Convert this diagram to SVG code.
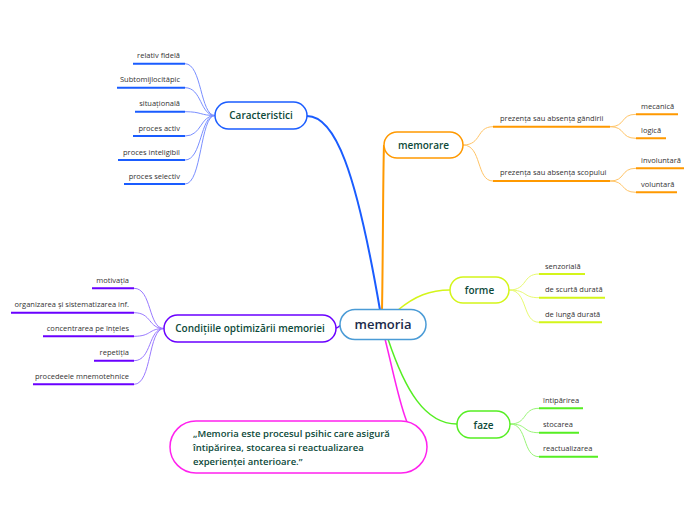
<svg xmlns="http://www.w3.org/2000/svg" width="696" height="520" viewBox="0 0 696 520">
<style>
.leaf{font-family:"Open Sans","Noto Sans",sans-serif;font-size:7.5px;fill:#333}
.nt{font-family:"Open Sans","Noto Sans",sans-serif;font-size:10px;font-weight:600;fill:#0d4a3a;text-anchor:middle}
.q{font-family:"Open Sans","Noto Sans",sans-serif;font-size:9.5px;font-weight:600;fill:#0d4a3a}
.c{fill:none}
.node{fill:#fff;stroke-width:1.5}
.ul{stroke-width:2;fill:none}
.e{text-anchor:end}
</style>
<rect width="696" height="520" fill="#fff"/>
<g id="connectors" class="c">
  <path d="M307,116 C335,116 356,170 380,310" stroke="#1a5cff" stroke-width="2"/>
  <path d="M384,145 C383,170 383,260 382,310" stroke="#ff9900" stroke-width="2"/>
  <path d="M398,310 C415,296 430,290 450,290" stroke="#d4f51a" stroke-width="1.5"/>
  <path d="M388,339 C405,390 425,424 457,424" stroke="#55ee22" stroke-width="1.5"/>
  <path d="M385,339 C398,390 405,440 427,447" stroke="#ff22ee" stroke-width="1.5"/>
  <path d="M336,328 C338,328 339,326 341,325" stroke="#6a00ff" stroke-width="1.5"/>
  <g stroke="#7a8fff" stroke-width="1">
    <path d="M185,63.7 C202,63.7 200,115.5 215,115.5"/>
    <path d="M185,87.7 C202,87.7 200,115.5 215,115.5"/>
    <path d="M185,111.7 C202,111.7 200,115.5 215,115.5"/>
    <path d="M185,136 C202,136 200,115.5 215,115.5"/>
    <path d="M185,160 C202,160 200,115.5 215,115.5"/>
    <path d="M185,184 C202,184 200,115.5 215,115.5"/>
  </g>
  <g stroke="#9a7aff" stroke-width="1">
    <path d="M134,288.3 C152,288.3 148,328.5 164,328.5"/>
    <path d="M134,312.7 C152,312.7 148,328.5 164,328.5"/>
    <path d="M134,336.3 C152,336.3 148,328.5 164,328.5"/>
    <path d="M134,360.7 C152,360.7 148,328.5 164,328.5"/>
    <path d="M134,384.3 C152,384.3 148,328.5 164,328.5"/>
  </g>
  <g stroke="#ffc466" stroke-width="1">
    <path d="M463,145 C482,145 476,126.7 493,126.7"/>
    <path d="M463,145 C482,145 476,181 493,181"/>
    <path d="M610,126.7 C626,126.7 620,114.3 636,114.3"/>
    <path d="M610,126.7 C626,126.7 620,138.3 636,138.3"/>
    <path d="M610,181 C626,181 620,168.3 636,168.3"/>
    <path d="M610,181 C626,181 620,192.3 636,192.3"/>
  </g>
  <g stroke="#e8fa70" stroke-width="1">
    <path d="M509,290 C528,290 522,274 539,274"/>
    <path d="M509,290 C528,290 522,297.7 539,297.7"/>
    <path d="M509,290 C528,290 522,322.3 539,322.3"/>
  </g>
  <g stroke="#99f577" stroke-width="1">
    <path d="M510,424 C528,424 522,408.3 539,408.3"/>
    <path d="M510,424 C528,424 522,432.7 539,432.7"/>
    <path d="M510,424 C528,424 522,456.7 539,456.7"/>
  </g>
</g>
<g id="memoria">
  <rect class="node" x="340" y="309.5" width="86" height="30" rx="15" stroke="#4a9bd6"/>
  <text x="383" y="329" style="font-family:'Open Sans','Noto Sans',sans-serif;font-size:13px;font-weight:600;fill:#1b2a4a;text-anchor:middle">memoria</text>
</g>
<g id="caracteristici">
  <rect class="node" x="215" y="102" width="92" height="27" rx="13.5" stroke="#1a5cff"/>
  <text class="nt" x="261" y="119">Caracteristici</text>
</g>
<g id="car-leaves">
  <path class="ul" stroke="#1a5cff" d="M133,63.7H185 M117,87.7H185 M135,111.7H185 M133,136H185 M118,160H185 M124,184H185"/>
  <text class="leaf e" x="180" y="58">relativ fidelă</text>
  <text class="leaf e" x="180" y="82">Subtomijlocitâpic</text>
  <text class="leaf e" x="180" y="106">situațională</text>
  <text class="leaf e" x="180" y="130.5">proces activ</text>
  <text class="leaf e" x="180" y="154.5">proces inteligibil</text>
  <text class="leaf e" x="180" y="178.5">proces selectiv</text>
</g>
<g id="conditiile">
  <rect class="node" x="164" y="315" width="172" height="27" rx="13.5" stroke="#6a00ff"/>
  <text class="nt" x="250" y="332">Condițiile optimizării memoriei</text>
</g>
<g id="cond-leaves">
  <path class="ul" stroke="#6a00ff" d="M92,288.3H134 M11,312.7H134 M43,336.3H134 M94,360.7H134 M33,384.3H134"/>
  <text class="leaf e" x="129" y="283">motivația</text>
  <text class="leaf e" x="129" y="307">organizarea și sistematizarea inf.</text>
  <text class="leaf e" x="129" y="331">concentrarea pe înțeles</text>
  <text class="leaf e" x="129" y="355">repetiția</text>
  <text class="leaf e" x="129" y="379">procedeele mnemotehnice</text>
</g>
<g id="memorare">
  <rect class="node" x="384" y="132" width="79" height="26" rx="13" stroke="#ff9900"/>
  <text class="nt" x="423.5" y="149">memorare</text>
</g>
<g id="memorare-leaves">
  <path class="ul" stroke="#ff9900" d="M493,126.7H610 M493,181H610 M636,114.3H678 M636,138.3H666 M636,168.3H684 M636,192.3H677"/>
  <text class="leaf" x="500" y="121">prezența sau absența gândirii</text>
  <text class="leaf" x="500" y="175">prezența sau absența scopului</text>
  <text class="leaf" x="641" y="108.5">mecanică</text>
  <text class="leaf" x="641" y="132.5">logică</text>
  <text class="leaf" x="641" y="162.5">involuntară</text>
  <text class="leaf" x="641" y="186.5">voluntară</text>
</g>
<g id="forme">
  <rect class="node" x="450" y="277" width="59" height="26" rx="13" stroke="#d4f51a"/>
  <text class="nt" x="479.5" y="294">forme</text>
</g>
<g id="forme-leaves">
  <path class="ul" stroke="#d4f51a" d="M539,274H585 M539,297.7H605 M539,322.3H602"/>
  <text class="leaf" x="545" y="268.5">senzorială</text>
  <text class="leaf" x="545" y="292">de scurtă durată</text>
  <text class="leaf" x="545" y="316.5">de lungă durată</text>
</g>
<g id="faze">
  <rect class="node" x="457" y="411" width="53" height="27" rx="13.5" stroke="#55ee22"/>
  <text class="nt" x="483.5" y="428.5">faze</text>
</g>
<g id="faze-leaves">
  <path class="ul" stroke="#55ee22" d="M539,408.3H583 M539,432.7H579 M539,456.7H598"/>
  <text class="leaf" x="543" y="402.5">întipărirea</text>
  <text class="leaf" x="543" y="427">stocarea</text>
  <text class="leaf" x="543" y="451">reactualizarea</text>
</g>
<g id="quote">
  <rect class="node" x="170" y="421" width="257" height="52" rx="26" stroke="#ff22ee"/>
  <text class="q" x="193" y="437">„Memoria este procesul psihic care asigură</text>
  <text class="q" x="193" y="451">întipărirea, stocarea si reactualizarea</text>
  <text class="q" x="193" y="465">experienței anterioare.”</text>
</g>
</svg>
